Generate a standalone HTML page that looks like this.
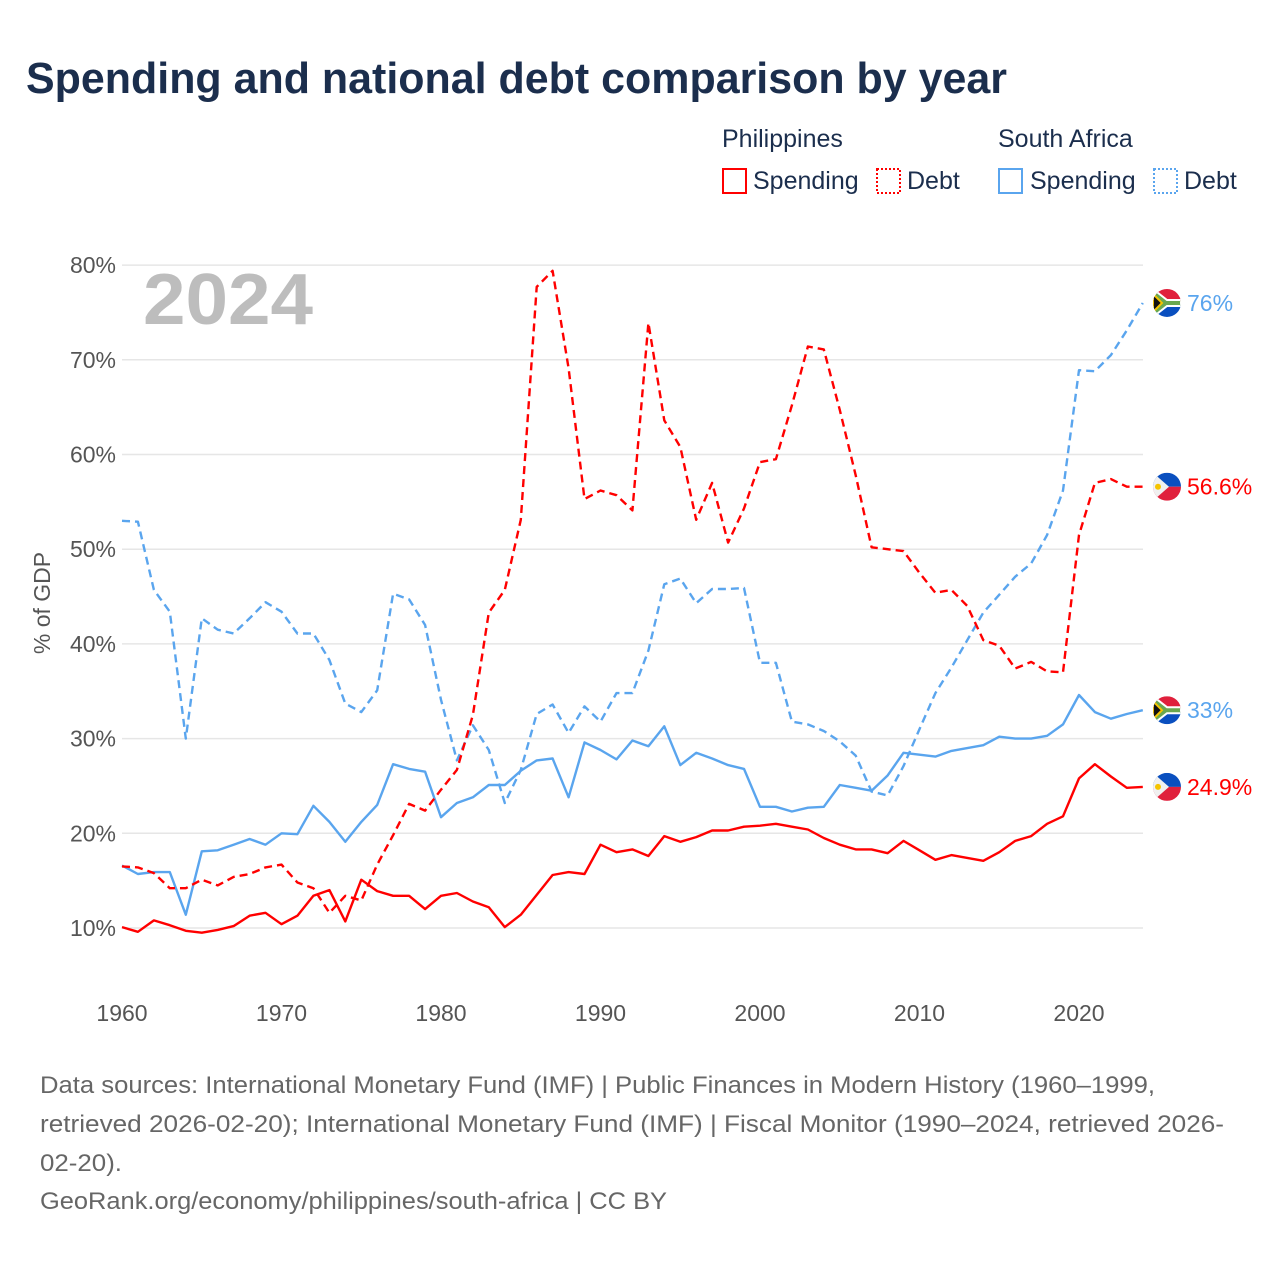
<!DOCTYPE html>
<html><head><meta charset="utf-8"><style>
body{margin:0;background:#fff;font-family:"Liberation Sans",sans-serif;}
#wrap{position:relative;width:1280px;height:1280px;overflow:hidden;}
</style></head><body><div id="wrap">
<svg id="svg" width="1280" height="1280" xmlns="http://www.w3.org/2000/svg">
<text x="26" y="93" font-size="44" font-weight="bold" fill="#1b2e4d" textLength="981" lengthAdjust="spacingAndGlyphs">Spending and national debt comparison by year</text>
<g font-size="25" fill="#1b2e4d">
<text x="722" y="147">Philippines</text>
<text x="998" y="147">South Africa</text>
<g><rect x="723" y="169" width="23" height="24" fill="none" stroke="#f00" stroke-width="2"/><text x="753" y="189">Spending</text></g>
<g><rect x="877" y="169" width="23" height="24" fill="none" stroke="#f00" stroke-width="2" stroke-dasharray="2,2"/><text x="907" y="189">Debt</text></g>
<g><rect x="999" y="169" width="23" height="24" fill="none" stroke="#5aa5ee" stroke-width="2"/><text x="1030" y="189">Spending</text></g>
<g><rect x="1154" y="169" width="23" height="24" fill="none" stroke="#5aa5ee" stroke-width="2" stroke-dasharray="2,2"/><text x="1184" y="189">Debt</text></g>
</g>
<g id="grid"></g>
<text x="143" y="324" font-size="72" font-weight="bold" fill="#bdbdbd" textLength="170" lengthAdjust="spacingAndGlyphs">2024</text>
<text transform="translate(50,603) rotate(-90)" text-anchor="middle" font-size="23" fill="#555">% of GDP</text>
<g id="series"></g>
<g id="ends"></g>
<g font-size="24" fill="#666">
<text x="40" y="1093" textLength="1115" lengthAdjust="spacingAndGlyphs">Data sources: International Monetary Fund (IMF) | Public Finances in Modern History (1960–1999,</text>
<text x="40" y="1132" textLength="1184" lengthAdjust="spacingAndGlyphs">retrieved 2026-02-20); International Monetary Fund (IMF) | Fiscal Monitor (1990–2024, retrieved 2026-</text>
<text x="40" y="1171" textLength="82" lengthAdjust="spacingAndGlyphs">02-20).</text>
<text x="40" y="1209" textLength="627" lengthAdjust="spacingAndGlyphs">GeoRank.org/economy/philippines/south-africa | CC BY</text>
</g>
</svg></div>
<script>
const years=[];for(let y=1960;y<=2024;y++)years.push(y);
const yTicks=[10,20,30,40,50,60,70,80];
const xTicks=[1960,1970,1980,1990,2000,2010,2020];
const phSpending=[10.1,9.6,10.8,10.3,9.7,9.5,9.8,10.2,11.3,11.6,10.4,11.3,13.4,14.0,10.7,15.1,13.9,13.4,13.4,12.0,13.4,13.7,12.8,12.2,10.1,11.4,13.5,15.6,15.9,15.7,18.8,18.0,18.3,17.6,19.7,19.1,19.6,20.3,20.3,20.7,20.8,21.0,20.7,20.4,19.5,18.8,18.3,18.3,17.9,19.2,18.2,17.2,17.7,17.4,17.1,18.0,19.2,19.7,21.0,21.8,25.8,27.3,26.0,24.8,24.9];
const phDebt=[16.5,16.4,15.8,14.2,14.2,15.1,14.5,15.4,15.7,16.4,16.7,14.8,14.2,11.6,13.4,12.9,16.7,19.8,23.1,22.4,24.6,26.7,32.5,43.3,45.7,53.1,77.7,79.4,69.1,55.3,56.2,55.7,54.1,73.9,63.6,60.8,53.1,57.0,50.7,54.3,59.2,59.5,65.2,71.4,71.1,64.7,57.8,50.2,50.0,49.8,47.5,45.4,45.7,44.0,40.4,39.8,37.4,38.1,37.1,37.0,51.5,57.0,57.4,56.6,56.6];
const saSpending=[16.6,15.7,15.9,15.9,11.4,18.1,18.2,18.8,19.4,18.8,20.0,19.9,22.9,21.2,19.1,21.2,23.0,27.3,26.8,26.5,21.7,23.2,23.8,25.1,25.1,26.6,27.7,27.9,23.8,29.6,28.8,27.8,29.8,29.2,31.3,27.2,28.5,27.9,27.2,26.8,22.8,22.8,22.3,22.7,22.8,25.1,24.8,24.5,26.1,28.5,28.3,28.1,28.7,29.0,29.3,30.2,30.0,30.0,30.3,31.5,34.6,32.8,32.1,32.6,33.0];
const saDebt=[53.0,52.9,45.7,43.4,30.0,42.7,41.5,41.1,42.7,44.4,43.4,41.1,41.1,38.3,33.7,32.8,35.1,45.3,44.7,42.0,34.1,27.7,31.4,28.8,23.2,26.7,32.6,33.6,30.6,33.4,31.8,34.8,34.8,39.3,46.3,46.9,44.3,45.8,45.8,45.9,38.0,38.0,31.8,31.5,30.8,29.7,28.2,24.4,24.0,27.1,31.0,34.8,37.5,40.4,43.3,45.2,47.1,48.5,51.5,56.2,68.9,68.8,70.5,73.1,76.0];
const NS="http://www.w3.org/2000/svg";
const X=y=>122+(y-1960)*15.95;
const Y=v=>928-(v-10)*9.47;
function mk(tag,attrs,parent){const e=document.createElementNS(NS,tag);for(const k in attrs)e.setAttribute(k,attrs[k]);parent.appendChild(e);return e;}
const grid=document.getElementById('grid');
yTicks.forEach(t=>{
 const l=mk('line',{x1:122,x2:1143,y1:Y(t),y2:Y(t),stroke:'#e6e6e6','stroke-width':1.5},grid);
 
 
 const tx=mk('text',{x:116,y:Y(t)+8,'text-anchor':'end','font-size':23,fill:'#555'},grid);
 tx.textContent=t+'%';
 
 
});
xTicks.forEach(t=>{
 const tx=mk('text',{x:X(t),y:1021,'text-anchor':'middle','font-size':23,fill:'#555'},grid);
 tx.textContent=t;
 
 
});
const series=document.getElementById('series');
function line(data,color,dash,name){
 const d=data.map((v,i)=>(i?'L':'M')+X(years[i]).toFixed(1)+','+Y(v).toFixed(1)).join('');
 const p=mk('path',{d:d,fill:'none',stroke:color,'stroke-width':2.4,'stroke-linejoin':'round'},series);
 if(dash)p.setAttribute('stroke-dasharray','8,5');
 
 
}
line(saDebt,'#5aa5ee',true,'line-sa-debt');
line(saSpending,'#5aa5ee',false,'line-sa-spending');
line(phDebt,'#f00',true,'line-ph-debt');
line(phSpending,'#f00',false,'line-ph-spending');
const ends=document.getElementById('ends');
function flag(cy,sa,val,color,name){
 const g=mk('g',{},ends);
 
 
 const cx=1167,r=14;
 const clip=mk('clipPath',{id:'c'+name},g);
 mk('circle',{cx:cx,cy:cy,r:r},clip);
 const f=mk('g',{'clip-path':'url(#c'+name+')'},g);
 if(sa){
  mk('rect',{x:cx-r,y:cy-r,width:2*r,height:r,fill:'#e0203c'},f);
  mk('rect',{x:cx-r,y:cy,width:2*r,height:r,fill:'#0a4fbf'},f);
  mk('path',{d:`M${cx-r},${cy-r}L${cx},${cy-3}H${cx+r}V${cy+3}H${cx}L${cx-r},${cy+r}Z`,fill:'#6aa84f',stroke:'#fff','stroke-width':2},f);
  mk('path',{d:`M${cx-r},${cy-9}L${cx-5},${cy}L${cx-r},${cy+9}Z`,fill:'#111',stroke:'#f5c400','stroke-width':2},f);
 }else{
  mk('rect',{x:cx-r,y:cy-r,width:2*r,height:r,fill:'#0a4fbf'},f);
  mk('rect',{x:cx-r,y:cy,width:2*r,height:r,fill:'#e0203c'},f);
  mk('path',{d:`M${cx-r},${cy-r}L${cx+2},${cy}L${cx-r},${cy+r}Z`,fill:'#f0f0f0'},f);
  mk('circle',{cx:cx-9,cy:cy,r:3,fill:'#f5c400'},f);
 }
 const t=mk('text',{x:1187,y:cy+8,'font-size':23,fill:color},g);t.textContent=val;
}
flag(Y(saDebt[64]),true,'76%','#5aa5ee','end-label-sa-debt');
flag(Y(phDebt[64]),false,'56.6%','#f00','end-label-ph-debt');
flag(Y(saSpending[64]),true,'33%','#5aa5ee','end-label-sa-spending');
flag(Y(phSpending[64]),false,'24.9%','#f00','end-label-ph-spending');
</script></body></html>
